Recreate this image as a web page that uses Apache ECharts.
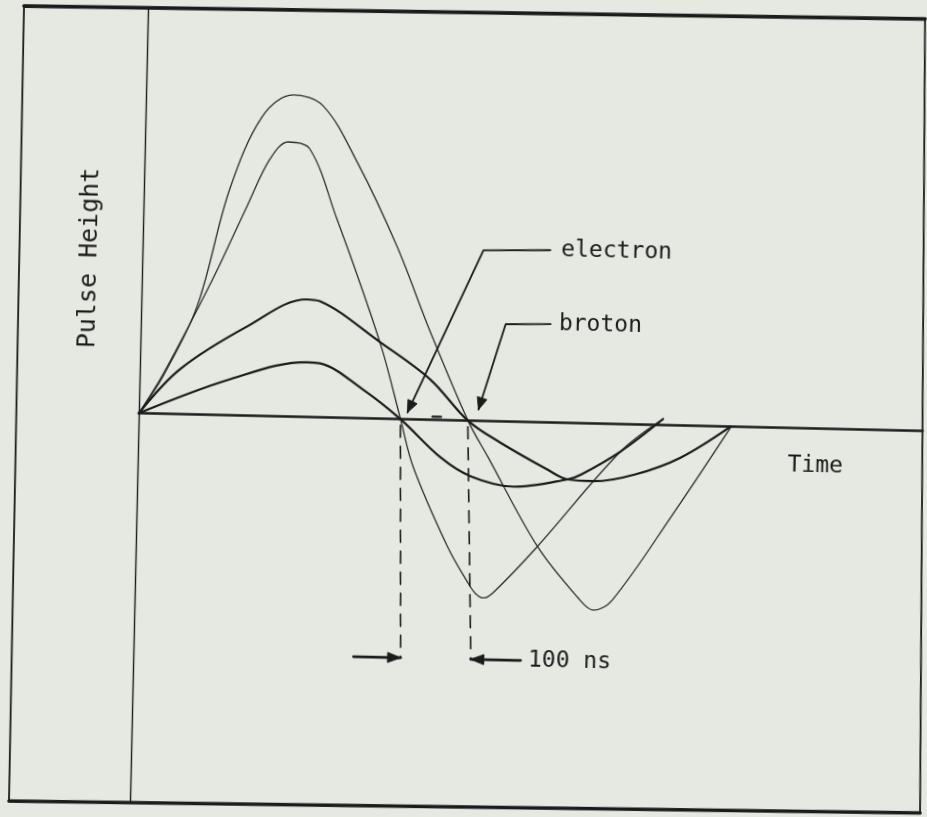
<!DOCTYPE html>
<html>
<head>
<meta charset="utf-8">
<script src="https://cdn.jsdelivr.net/npm/echarts@6/dist/echarts.min.js"></script>
<style>
  html, body { margin: 0; padding: 0; width: 927px; height: 817px; overflow: hidden; background: #e6e8e2; }
  /* the sheet sits slightly skewed on the page */
  #chart { position: absolute; left: -20px; top: -20px; width: 967px; height: 857px;
           transform: rotate(1.3deg); transform-origin: 50% 50%; }
</style>
</head>
<body>
<div id="chart"></div>
<script>
// Pulse shapes: [time (ns), pulse height (arb. units)]
const protonLarge = [[0,0],[35,9.5],[82,26.7],[126,55.8],[172,74],[216,79.3],[260,76.8],[312,63.1],[373,42.6],[425,21.6],[483,0],[513,-8.7],[589,-30.6],[650,-43],[673,-46],[700,-43.5],[788,-21.5],[869,0]];
const protonSmall = [[0,0],[59,11.1],[156,22],[243,29],[262,28.6],[352,18.8],[426,10],[483,0],[531,-5.2],[600,-11.5],[631,-13.9],[670,-14.2],[730,-12.3],[796,-7.9],[868,0]];
const electronLarge = [[0,0],[35,10],[104,33.5],[152,51.7],[184,63.4],[210,67.7],[242,66.1],[284,49],[325,31.1],[356,16.4],[384,0],[404,-11.6],[457,-31.1],[488,-39.9],[500,-42.6],[512,-43.6],[527,-42],[589,-30.6],[708,-6.7],[769,1.5]];
const electronSmall = [[0,0],[133,8.9],[245,13.5],[264,13.3],[328,7.1],[384,0],[444,-9.2],[489,-13.7],[552,-16],[631,-13.9],[651,-12.6],[708,-6.7],[769,1.5]];

const timeRange = [0, 1150];
const heightRange = [-96, 100];
const intervalNs = 100;

const texts = {
  yName: 'Pulse Height',
  xName: 'Time',
  electron: 'electron',
  proton: 'broton',
  interval: intervalNs + ' ns'
};

const ink = '#1b1b1b';
const thinInk = '#2e2e2e';
const letterFont = '"DejaVu Sans Mono", "Liberation Mono", monospace';

const chart = echarts.init(document.getElementById('chart'), null, { renderer: 'canvas' });

function curve(name, data, width, color) {
  return {
    name, type: 'line', data, smooth: 0.35, symbol: 'none', silent: true, z: 3,
    lineStyle: { color, width, cap: 'round', join: 'round' }
  };
}

chart.setOption({
  backgroundColor: 'transparent',
  animation: false,
  grid: { left: 159, right: 24, top: 35, bottom: 27 },
  xAxis: {
    type: 'value', min: timeRange[0], max: timeRange[1],
    axisLine: { show: true, onZero: true, lineStyle: { color: ink, width: 2.6 } },
    axisTick: { show: false }, axisLabel: { show: false }, splitLine: { show: false }
  },
  yAxis: {
    type: 'value', min: heightRange[0], max: heightRange[1],
    axisLine: { show: true, onZero: false, lineStyle: { color: ink, width: 1.4 } },
    axisTick: { show: false }, axisLabel: { show: false }, splitLine: { show: false }
  },
  series: [
    curve('proton, large', protonLarge, 1.3, thinInk),
    curve('electron, large', electronLarge, 1.3, thinInk),
    curve('proton, small', protonSmall, 2.2, ink),
    curve('electron, small', electronSmall, 2.2, ink)
  ]
});

// ---- annotations ----
const px = p => chart.convertToPixel({ gridIndex: 0 }, p);

function zeroCrossing(data) {
  let peak = 0;
  data.forEach((d, i) => { if (d[1] > data[peak][1]) peak = i; });
  for (let i = peak; i < data.length; i++) if (data[i][1] <= 0) return data[i][0];
  return null;
}
const tE = zeroCrossing(electronLarge);
const tP = zeroCrossing(protonLarge);

function line(a, b, width, dash) {
  return { type: 'line', silent: true, z: 10,
    shape: { x1: a[0], y1: a[1], x2: b[0], y2: b[1] },
    style: { stroke: ink, lineWidth: width, lineDash: dash || null, lineCap: 'round' } };
}
function polyline(points, width) {
  return { type: 'polyline', silent: true, z: 10, shape: { points },
    style: { stroke: ink, lineWidth: width, fill: null, lineJoin: 'round', lineCap: 'round' } };
}
function head(tip, from, len, half) {
  const dx = tip[0] - from[0], dy = tip[1] - from[1];
  const d = Math.hypot(dx, dy), ux = dx / d, uy = dy / d;
  const bx = tip[0] - ux * len, by = tip[1] - uy * len;
  return { type: 'polygon', silent: true, z: 11,
    shape: { points: [tip, [bx - uy * half, by + ux * half], [bx + uy * half, by - ux * half]] },
    style: { fill: ink, stroke: ink, lineWidth: 1 } };
}
function label(text, pos, size, align, rotation) {
  return { type: 'text', silent: true, z: 12, x: pos[0], y: pos[1], rotation: rotation || 0,
    style: { text, font: `${size}px ${letterFont}`, fill: ink,
             textAlign: align || 'left', textVerticalAlign: 'middle' } };
}

// sheet frame corners (container pixels)
const frame = { tl: [35, 36.1], tr: [936.1, 28.6], br: [949.1, 822.5], bl: [38, 831.2] };
const markLevel = -58.8;

const eTip = px([tE + 10, 1.7]), eCorner = px([tE + 116, 42.1]), eEnd = px([tE + 214, 42.5]);
const pTip = px([tP + 15, 2.8]), pCorner = px([tP + 52, 24]), pEnd = px([tP + 118, 24.3]);
const eDashTop = px([tE, -1.5]), eDashBot = px([tE + 8, markLevel]);
const pDashTop = px([tP, -1.5]), pDashBot = px([tP + 12, markLevel]);
const lTail = px([tE - 61, markLevel]), lTip = px([tE + 8, markLevel]);
const rTail = px([tP + 85, markLevel]), rTip = px([tP + 12, markLevel]);

chart.setOption({
  graphic: [
    line(frame.tl, frame.tr, 3.6),
    line(frame.bl, frame.br, 3.6),
    line(frame.tl, frame.bl, 1.8),
    line(frame.tr, frame.br, 1.8),

    polyline([eTip, eCorner, eEnd], 1.8),
    head(eTip, eCorner, 12, 5),
    polyline([pTip, pCorner, pEnd], 1.8),
    head(pTip, pCorner, 12, 5),
    line(px([tE + 47, 0.8]), px([tE + 59, 0.8]), 2.4),

    line(eDashTop, eDashBot, 1.6, [12, 9]),
    line(pDashTop, pDashBot, 1.6, [12, 9]),
    line(lTail, lTip, 2.8),
    head(lTip, lTail, 13, 5),
    line(rTail, rTip, 2.8),
    head(rTip, rTail, 13, 5),

    label(texts.electron, px([tE + 230, 42.5]), 23),
    label(texts.proton, px([tP + 130, 24.3]), 23),
    label(texts.interval, px([tP + 96, markLevel]), 23),
    label(texts.xName, px([953, -9.3]), 23),
    label(texts.yName, px([-77, 38]), 25, 'center', Math.PI / 2)
  ]
});
</script>
</body>
</html>
